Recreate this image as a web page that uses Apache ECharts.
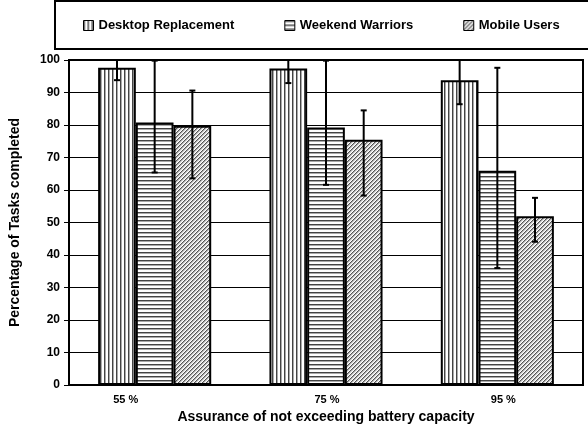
<!DOCTYPE html>
<html>
<head>
<meta charset="utf-8">
<script src="https://cdn.jsdelivr.net/npm/echarts@6/dist/echarts.min.js"></script>
<style>
  html, body { margin: 0; padding: 0; background: #fff; }
  #chart { width: 588px; height: 429px; }
</style>
</head>
<body>
<div id="chart"></div>
<script>
const categories = ['55 %', '75 %', '95 %']
const seriesNames = ['Desktop Replacement', 'Weekend Warriors', 'Mobile Users']

const desktop = [97.6, 97.4, 93.8]
const weekend = [80.8, 79.2, 65.9]
const mobile = [79.8, 75.5, 51.9]

// error bar ends (low / high)
const desktopLow = [93.8, 92.9, 86.4]
const desktopHigh = [101.5, 101.8, 101.3]
const weekendLow = [65.4, 61.6, 36.0]
const weekendHigh = [99.8, 99.8, 97.6]
const mobileLow = [63.6, 58.3, 44.1]
const mobileHigh = [90.6, 84.5, 57.6]

const yTicks = [0, 10, 20, 30, 40, 50, 60, 70, 80, 90, 100]

const FONT = "'Liberation Sans', Arial, sans-serif"
const BAR_RATIO = 0.22

// fill patterns for the bars
const makePattern = (kind) => {
  const c = document.createElement('canvas')
  c.width = 4
  c.height = 4
  const ctx = c.getContext('2d')
  ctx.fillStyle = '#fff'
  ctx.fillRect(0, 0, 4, 4)
  for (let x = 0; x < 4; x++) {
    for (let y = 0; y < 4; y++) {
      let col = null
      if (kind === 'v') {
        if (x === 0) col = '#444'
        else if (x === 1) col = '#aaa'
      } else if (kind === 'h') {
        if (y === 0) col = '#444'
        else if (y === 1) col = '#aaa'
      } else {
        const k = (x + y) % 4
        if (k === 0) col = '#555'
        else if (k === 1) col = '#aaa'
        else if (k === 2) col = '#ddd'
      }
      if (col) {
        ctx.fillStyle = col
        ctx.fillRect(x, y, 1, 1)
      }
    }
  }
  return { image: c, repeat: 'repeat' }
}

const patterns = [makePattern('v'), makePattern('h'), makePattern('d')]
const values = [desktop, weekend, mobile]
const lows = [desktopLow, weekendLow, mobileLow]
const highs = [desktopHigh, weekendHigh, mobileHigh]

const barSeries = seriesNames.map((name, i) => ({
  name: name,
  type: 'bar',
  data: values[i],
  barWidth: (BAR_RATIO * 100) + '%',
  barGap: '0%',
  itemStyle: {
    color: patterns[i],
    borderColor: '#000',
    borderWidth: 2
  },
  emphasis: { disabled: true }
}))

// error bars drawn over the bars, clipped at the top of the plot
const errorSeries = seriesNames.map((name, i) => ({
  name: name + ' error',
  type: 'custom',
  z: 5,
  data: categories.map((c, j) => [j, lows[i][j], highs[i][j]]),
  renderItem: (params, api) => {
    const band = api.size([1, 0])[0]
    const off = (i - 1) * band * BAR_RATIO
    const hi = api.value(2)
    const top = api.coord([api.value(0), Math.min(hi, 100)])
    const bot = api.coord([api.value(0), api.value(1)])
    const x = top[0] + off
    const style = { stroke: '#000', lineWidth: 2 }
    const children = [
      { type: 'line', shape: { x1: x, y1: top[1], x2: x, y2: bot[1] }, style: style },
      { type: 'line', shape: { x1: x - 3, y1: bot[1], x2: x + 3, y2: bot[1] }, style: style }
    ]
    if (hi <= 100) {
      children.push({ type: 'line', shape: { x1: x - 3, y1: top[1], x2: x + 3, y2: top[1] }, style: style })
    }
    return { type: 'group', children: children }
  }
}))

const chart = echarts.init(document.getElementById('chart'))

const option = {
  animation: false,
  textStyle: { fontFamily: FONT },
  graphic: [
    {
      type: 'rect',
      shape: { x: 55, y: 1, width: 540, height: 48 },
      style: { fill: 'none', stroke: '#000', lineWidth: 2 }
    }
  ],
  legend: {
    data: seriesNames,
    icon: 'rect',
    left: 83,
    top: 19,
    padding: 0,
    itemWidth: 10,
    itemHeight: 10,
    itemGap: 50,
    itemStyle: { borderColor: '#000', borderWidth: 1 },
    textStyle: { fontFamily: FONT, fontWeight: 'bold', fontSize: 13, color: '#000' }
  },
  grid: {
    left: 66,
    right: 5,
    top: 60,
    bottom: 42,
    show: true,
    borderColor: '#000',
    borderWidth: 2
  },
  xAxis: {
    type: 'category',
    data: categories,
    name: 'Assurance of not exceeding battery capacity',
    nameLocation: 'middle',
    nameGap: 23,
    nameTextStyle: { fontFamily: FONT, fontWeight: 'bold', fontSize: 14, color: '#000' },
    axisLine: { lineStyle: { color: '#000', width: 2 } },
    axisTick: { show: false },
    axisLabel: {
      margin: 9,
      fontFamily: FONT,
      fontWeight: 'bold',
      fontSize: 11,
      color: '#000',
      formatter: (v, idx) => ['{a|' + v + '}', '{b|' + v + '}', '{c|' + v + '}'][idx],
      rich: {
        a: { fontFamily: FONT, fontWeight: 'bold', fontSize: 11, color: '#000', padding: [0, 58, 0, 0] },
        b: { fontFamily: FONT, fontWeight: 'bold', fontSize: 11, color: '#000', padding: [0, 0, 0, 2] },
        c: { fontFamily: FONT, fontWeight: 'bold', fontSize: 11, color: '#000', padding: [0, 0, 0, 12] }
      }
    }
  },
  yAxis: {
    type: 'value',
    min: yTicks[0],
    max: yTicks[yTicks.length - 1],
    interval: 10,
    name: 'Percentage of Tasks completed',
    nameLocation: 'middle',
    nameGap: 47,
    nameTextStyle: { fontFamily: FONT, fontWeight: 'bold', fontSize: 14, color: '#000' },
    axisLine: { show: true, lineStyle: { color: '#000', width: 2 } },
    axisTick: { show: true, length: 5, lineStyle: { color: '#000', width: 1 } },
    axisLabel: { margin: 9, fontFamily: FONT, fontWeight: 'bold', fontSize: 12, color: '#000' },
    splitLine: { show: true, lineStyle: { color: '#000', width: 1 } }
  },
  series: barSeries.concat(errorSeries)
}

chart.setOption(option)
</script>
</body>
</html>
